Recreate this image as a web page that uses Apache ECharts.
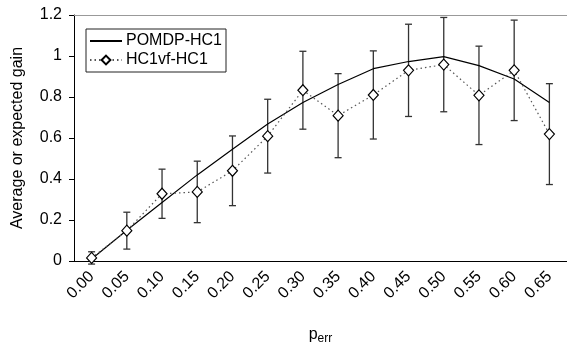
<!DOCTYPE html>
<html>
<head>
<meta charset="utf-8">
<script src="https://cdn.jsdelivr.net/npm/echarts@6/dist/echarts.min.js"></script>
<style>
  html, body { margin: 0; padding: 0; background: #fff; }
  #chart { width: 567px; height: 350px; }
</style>
</head>
<body>
<div id="chart"></div>
<script>
// Error probability categories
const categories = ['0.00', '0.05', '0.10', '0.15', '0.20', '0.25', '0.30',
                    '0.35', '0.40', '0.45', '0.50', '0.55', '0.60', '0.65'];

// Expected gain of the POMDP policy
const pomdpGain = [0.01, 0.15, 0.285, 0.42, 0.545, 0.668, 0.773,
                   0.861, 0.938, 0.973, 0.997, 0.953, 0.888, 0.773];

// Average gain of the HC1vf policy and its error half-widths
const hc1vfGain = [0.015, 0.148, 0.328, 0.337, 0.44, 0.609, 0.833,
                   0.709, 0.81, 0.93, 0.958, 0.808, 0.93, 0.619];
const hc1vfErr = [0.03, 0.09, 0.12, 0.15, 0.17, 0.18, 0.19,
                  0.205, 0.215, 0.225, 0.23, 0.24, 0.245, 0.246];

// Y axis range
const yMin = 0, yMax = 1.2, yStep = 0.2;

const FONT = '"Liberation Sans", Arial, sans-serif';
const FS = 16;

const errorData = categories.map((c, i) => [i, hc1vfGain[i] - hc1vfErr[i], hc1vfGain[i] + hc1vfErr[i]]);

const chart = echarts.init(document.getElementById('chart'), null, { renderer: 'canvas' });

chart.setOption({
  animation: false,
  backgroundColor: '#fff',
  textStyle: { fontFamily: FONT },
  grid: { left: 74, right: -9, top: 15, bottom: 79, containLabel: false },
  legend: {
    data: [
      // plain line sample: hide the marker the legend adds for symbol-less lines
      { name: 'POMDP-HC1', itemStyle: { opacity: 0 } },
      { name: 'HC1vf-HC1' }
    ],
    orient: 'vertical',
    left: 86,
    top: 29,
    padding: [4, 4, 4, 3],
    itemGap: 3,
    itemWidth: 32,
    itemHeight: 11,
    borderColor: '#222',
    borderWidth: 1,
    backgroundColor: '#fff',
    textStyle: { fontFamily: FONT, fontSize: FS, color: '#000', padding: [0, 0, 0, -1] }
  },
  xAxis: [{
    type: 'category',
    data: categories,
    boundaryGap: true,
    axisLine: { lineStyle: { color: '#000', width: 1 } },
    axisTick: { show: false },
    axisLabel: { rotate: 45, margin: 13, fontFamily: FONT, fontSize: FS, color: '#000', interval: 0 },
    name: '{p|p}{s|err}',
    nameLocation: 'middle',
    nameGap: 66,
    nameTextStyle: {
      rich: {
        p: { fontFamily: FONT, fontSize: FS, color: '#000', verticalAlign: 'bottom' },
        s: { fontFamily: FONT, fontSize: 12, color: '#000', verticalAlign: 'bottom', padding: [0, 0, -2, 0] }
      }
    }
  }, {
    type: 'category',
    data: categories,
    position: 'top',
    axisLine: { lineStyle: { color: '#999', width: 1 } },
    axisTick: { show: false },
    axisLabel: { show: false }
  }],
  yAxis: {
    type: 'value',
    min: yMin,
    max: yMax,
    interval: yStep,
    axisLine: { show: true, lineStyle: { color: '#000', width: 1 } },
    axisTick: { show: true, length: 5, lineStyle: { color: '#000' } },
    splitLine: { show: false },
    axisLabel: { margin: 12, fontFamily: FONT, fontSize: FS, color: '#000' },
    name: 'Average or expected gain',
    nameLocation: 'middle',
    nameGap: 48,
    nameTextStyle: { fontFamily: FONT, fontSize: FS, color: '#000' }
  },
  series: [{
    name: 'errors',
    type: 'custom',
    z: 1,
    silent: true,
    data: errorData,
    encode: { x: 0, y: [1, 2] },
    renderItem(params, api) {
      const i = api.value(0);
      const lo = api.coord([i, api.value(1)]);
      const hi = api.coord([i, api.value(2)]);
      const w = 3.5;
      const style = { stroke: '#333', lineWidth: 1.3 };
      return {
        type: 'group',
        children: [
          { type: 'line', shape: { x1: lo[0], y1: lo[1], x2: hi[0], y2: hi[1] }, style },
          { type: 'line', shape: { x1: hi[0] - w, y1: hi[1], x2: hi[0] + w, y2: hi[1] }, style },
          { type: 'line', shape: { x1: lo[0] - w, y1: lo[1], x2: lo[0] + w, y2: lo[1] }, style }
        ]
      };
    }
  }, {
    name: 'POMDP-HC1',
    type: 'line',
    z: 3,
    data: pomdpGain,
    symbol: 'none',
    lineStyle: { color: '#000', width: 1.2 },
    itemStyle: { color: '#000' }
  }, {
    name: 'HC1vf-HC1',
    type: 'line',
    z: 4,
    data: hc1vfGain,
    symbol: 'diamond',
    symbolSize: [10, 11],
    showAllSymbol: true,
    lineStyle: { color: '#555', width: 1.2, type: [1.5, 3] },
    itemStyle: { color: '#fff', borderColor: '#000', borderWidth: 1.2 }
  }]
});
</script>
</body>
</html>
